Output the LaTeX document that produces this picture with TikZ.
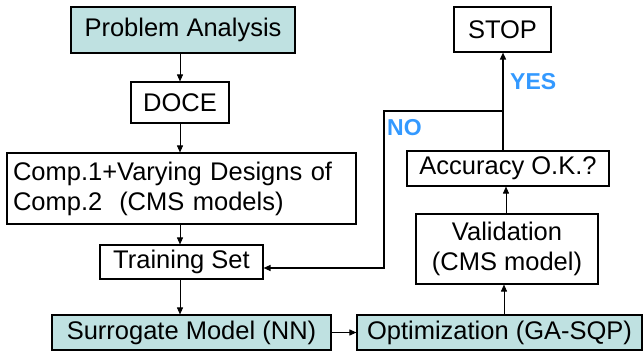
\documentclass[tikz,border=0pt]{standalone}
\usepackage{fontspec}
\setmainfont{Liberation Sans}
\usetikzlibrary{arrows.meta,calc}
\definecolor{boxcyan}{HTML}{BFE1E1}
\definecolor{lblblue}{HTML}{3399FF}
\begin{document}
\begin{tikzpicture}[x=1pt,y=-1pt,
  box/.style={draw=black,line width=1.1pt,inner sep=0pt,font=\fontsize{25.5}{30}\selectfont},
  cbox/.style={box,fill=boxcyan},
  arr/.style={line width=0.9pt,-{Triangle[length=7pt,width=6pt]}},
  lbl/.style={text=lblblue,font=\bfseries\fontsize{23}{26}\selectfont,inner sep=0pt}]
\useasboundingbox (0,0) rectangle (643,351);
\node[cbox,minimum width=224pt,minimum height=46pt] (pa) at (183,30) {Problem Analysis};
\node[box,minimum width=98pt,minimum height=41pt] (doce) at (180,102.5) {DOCE};
\node[box,minimum width=349pt,minimum height=71pt,align=left,text width=337pt] (comp) at (181.5,188.5) {Comp.1+Varying Designs of\\Comp.2\ \ (CMS models)};
\node[box,minimum width=163pt,minimum height=34pt] (ts) at (181.5,262) {Training Set};
\node[cbox,minimum width=279pt,minimum height=35pt] (sur) at (191.5,332.5) {Surrogate Model (NN)};
\node[cbox,minimum width=285pt,minimum height=35pt] (opt) at (499.5,332.5) {Optimization (GA-SQP)};
\node[box,minimum width=182pt,minimum height=70pt,align=center] (val) at (507,249) {Validation\\(CMS model)};
\node[box,minimum width=202pt,minimum height=35pt] (acc) at (508,168.5) {Accuracy O.K.?};
\node[box,minimum width=97pt,minimum height=45pt] (stop) at (502.5,29.5) {STOP};
\coordinate (j) at (503,111);
\coordinate (nc) at (384,111);
\coordinate (nd) at (384,268);
\draw[arr] (pa.south -| doce.north) -- (doce.north);
\draw[arr] (doce.south) -- (doce.south |- comp.north);
\draw[arr] (comp.south -| doce.south) -- (ts.north -| doce.south);
\draw[arr] (ts.south -| doce.south) -- (sur.north -| doce.south);
\draw[arr] (sur.east) -- (opt.west);
\draw[arr] (opt.north -| 504,0) -- (val.south -| 504,0);
\draw[arr] (val.north -| 506,0) -- (acc.south -| 506,0);
\draw[line width=1.5pt] (acc.north -| j) -- (j);
\draw[arr,line width=1.5pt] (j) -- (stop.south -| j);
\draw[arr,line width=1.2pt] (j) -- (nc) -- (nd) -- (ts.east |- nd);
\node[lbl,anchor=west] (yes) at (510,82) {YES};
\node[lbl,anchor=west] (no) at (387,128) {NO};
\end{tikzpicture}
\end{document}
